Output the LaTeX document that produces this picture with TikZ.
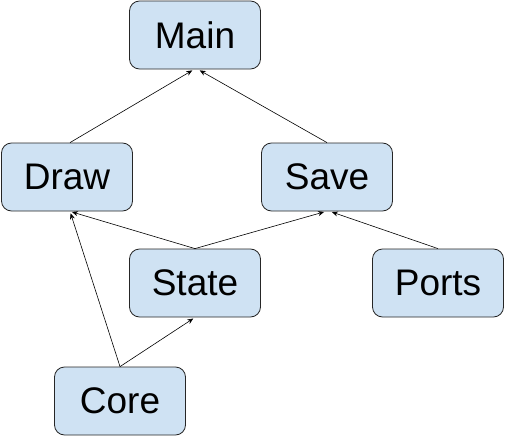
\documentclass[tikz,border=0pt]{standalone}
\usepackage{fontspec}
\setmainfont{Liberation Sans}
\usetikzlibrary{arrows.meta}
\definecolor{boxfill}{HTML}{CFE2F3}

\begin{document}
\begin{tikzpicture}[x=1pt,y=-1pt,
    module/.style={draw=black!85, fill=boxfill, rounded corners=10pt, line width=0.8pt,
                   minimum width=131pt, minimum height=68pt, inner sep=0pt,
                   font=\fontsize{37}{41}\selectfont},
    dep/.style={-{Stealth[length=6pt,width=5pt]}, line width=0.6pt, shorten >=2pt}]

  \useasboundingbox (0,0) rectangle (512,447);

  \node[module] (main)  at (195,35)  {Main};
  \node[module] (draw)  at (67,177)  {Draw};
  \node[module] (save)  at (327,177) {Save};
  \node[module] (state) at (195,283) {State};
  \node[module] (ports) at (438,283) {Ports};
  \node[module] (core)  at (120,401) {Core};

  \draw[dep] ([xshift=3pt]draw.north) -- ([xshift=-1pt]main.south);
  \draw[dep] (save.north) -- ([xshift=3pt]main.south);
  \draw[dep] (state.north) -- ([xshift=3pt]draw.south);
  \draw[dep] (state.north) -- ([xshift=-1pt]save.south);
  \draw[dep] (ports.north) -- ([xshift=3pt]save.south);
  \draw[dep] (core.north) -- ([xshift=3pt]draw.south);
  \draw[dep] (core.north) -- (state.south);

\end{tikzpicture}
\end{document}
